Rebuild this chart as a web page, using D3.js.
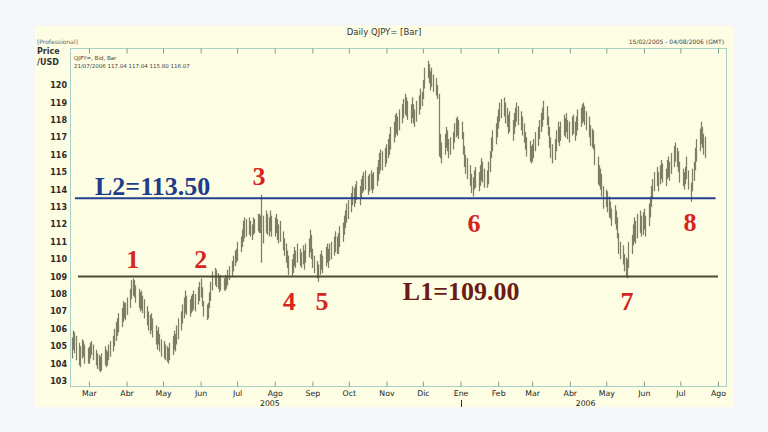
<!DOCTYPE html>
<html><head><meta charset="utf-8">
<script src="https://cdn.jsdelivr.net/npm/d3@7"></script>
<style>
html,body{margin:0;padding:0;background:#f5f6f8;}
svg{display:block;}
</style></head><body>
<svg id="c" width="768" height="432"></svg>
<script>
// ---------------- DATA ----------------
const firstBar = "2005-02-15";
const lastBar = "2006-07-21";
const axisStart = "2005-02-13T10:00Z";
const axisEnd = "2006-08-08T10:00Z";
const monthNames = ["Ene","Feb","Mar","Abr","May","Jun","Jul","Ago","Sep","Oct","Nov","Dic"];
const priceTicks = [103,104,105,106,107,108,109,110,111,112,113,114,115,116,117,118,119,120];

// daily highs (weekdays, 15/02/2005 .. 21/07/2006)
const highs = [
 // Feb 2005
 105.5,105.9,105.8,105.6,105.2,105.0,105.4,105.3,105.1,104.9,
 // Mar
 105.0,105.2,105.3,105.1,104.8,104.6,104.5,104.4,104.6,105.0,104.8,104.7,105.1,105.3,105.6,106.0,106.4,106.6,106.9,107.2,107.6,107.5,107.5,
 // Apr
 107.8,108.3,108.8,108.9,108.8,108.5,108.3,108.1,108.2,107.9,107.7,107.3,107.0,106.8,106.9,106.6,106.2,105.9,106.1,105.7,105.4,
 // May
 105.3,105.1,105.0,104.9,105.2,105.6,105.9,105.7,106.2,106.6,107.0,107.4,107.8,108.2,107.9,107.7,107.9,108.0,108.2,108.0,108.4,108.7,
 // Jun
 108.9,108.4,107.6,107.4,107.5,108.1,108.7,109.3,109.5,109.4,109.2,109.0,109.1,108.9,109.1,109.0,109.4,109.6,109.9,110.2,110.5,110.6,
 // Jul
 111.0,111.3,111.7,112.2,112.4,112.3,112.4,112.2,112.0,112.4,112.3,112.6,112.6,112.5,113.7,112.5,112.8,112.6,112.4,112.8,112.5,
 // Aug
 112.4,112.6,112.3,112.0,112.2,111.6,111.2,110.9,110.5,110.2,110.0,110.3,110.7,110.5,110.9,110.6,110.4,110.8,110.5,110.9,111.2,111.7,111.4,
 // Sep
 110.6,110.2,109.9,109.7,110.3,110.5,110.2,110.7,110.9,110.6,110.9,111.0,111.3,111.6,111.3,111.5,111.9,112.1,112.5,112.8,113.2,113.4,
 // Oct
 113.8,114.2,114.1,114.3,114.5,114.2,114.6,114.8,115.0,115.1,114.8,114.9,115.1,114.9,115.0,115.3,115.7,116.1,116.3,116.2,116.4,
 // Nov
 116.6,116.9,117.2,117.6,117.9,118.3,118.4,118.2,118.6,118.9,119.2,119.5,119.3,119.1,118.9,119.3,118.9,118.6,119.1,119.4,119.8,119.6,
 // Dec
 120.3,121.0,121.4,121.2,120.8,121.0,120.6,120.4,120.0,119.5,117.2,116.7,117.2,117.6,117.4,116.9,117.0,117.3,117.8,118.1,118.2,118.0,
 // Jan 2006
 117.9,117.3,116.5,116.0,115.8,115.4,114.9,114.7,115.1,115.3,115.0,115.4,115.8,115.6,115.2,115.1,115.6,116.2,117.0,117.4,117.8,118.2,
 // Feb
 118.6,119.0,119.2,119.3,119.0,118.7,118.3,118.5,118.0,118.4,118.7,119.0,118.8,118.5,118.2,117.8,117.3,117.0,116.8,116.5,
 // Mar
 116.6,116.9,117.3,117.6,118.0,118.4,118.7,119.1,118.8,118.2,117.6,117.0,116.6,116.9,117.4,117.9,117.6,117.9,118.3,118.1,118.4,118.0,117.9,
 // Apr
 118.2,118.3,117.9,118.2,118.6,118.7,118.9,119.0,118.8,118.5,118.2,117.7,117.5,117.4,116.6,115.9,115.4,115.2,114.9,114.2,
 // May
 114.0,113.9,113.6,113.3,112.9,113.1,112.8,112.4,111.5,111.0,110.8,110.3,110.1,110.0,111.0,111.4,112.0,112.4,112.2,112.6,112.8,112.5,112.7,
 // Jun
 112.9,112.5,113.2,113.6,114.2,114.6,115.0,115.3,115.0,115.4,115.7,115.5,115.2,115.7,115.9,115.6,116.1,116.5,116.7,116.4,116.2,115.6,
 // Jul
 115.2,115.0,115.3,115.9,115.1,114.4,115.2,115.6,116.4,116.9,117.5,117.9,117.6,117.2,117.04
];
// daily lows
const lows = [
 // Feb 2005
 104.3,104.8,104.6,104.2,103.9,103.8,104.3,104.4,104.0,104.0,
 // Mar
 104.0,104.3,104.5,104.2,103.9,103.7,103.6,103.5,103.6,103.9,103.8,103.9,104.2,104.4,104.7,105.0,105.3,105.6,105.8,106.1,106.4,106.6,106.5,
 // Apr
 106.8,107.2,107.7,107.9,107.8,107.5,107.2,107.0,107.1,106.9,106.6,106.2,105.9,105.7,105.9,105.5,105.1,104.8,105.1,104.7,104.4,
 // May
 104.3,104.2,104.1,104.0,104.2,104.5,104.8,104.7,105.1,105.4,105.9,106.3,106.6,106.9,106.8,106.7,106.9,107.0,107.1,107.0,107.4,107.6,
 // Jun
 107.8,107.3,106.7,106.5,106.6,107.2,107.6,108.2,108.5,108.4,108.3,108.1,108.2,108.2,108.2,108.3,108.5,108.8,109.0,109.3,109.6,109.8,
 // Jul
 109.9,110.4,110.7,111.0,111.2,111.3,111.4,111.3,111.1,111.4,111.5,111.6,111.5,111.5,109.8,110.9,111.5,111.4,111.3,111.6,111.3,
 // Aug
 111.3,111.5,111.1,110.9,111.0,110.5,110.2,109.8,109.5,109.1,109.0,109.2,109.6,109.5,109.8,109.6,109.5,109.7,109.4,109.8,110.1,110.4,110.0,
 // Sep
 109.5,109.2,108.9,108.7,109.1,109.4,109.2,109.6,109.8,109.5,109.9,110.0,110.2,110.4,110.3,110.3,110.7,111.0,111.4,111.8,112.1,112.3,
 // Oct
 112.7,113.1,113.0,113.2,113.4,113.1,113.5,113.8,113.9,114.0,113.7,113.9,114.0,113.8,114.0,114.2,114.5,114.9,115.1,115.1,115.3,
 // Nov
 115.5,115.8,116.0,116.3,116.7,117.0,117.2,117.1,117.4,117.8,118.1,118.3,118.2,118.0,117.8,118.1,117.8,117.6,117.9,118.3,118.6,118.8,
 // Dec
 119.2,119.8,120.4,120.1,119.7,119.9,119.6,119.4,119.2,115.9,115.8,115.5,116.0,116.4,116.2,115.8,116.0,116.3,116.7,117.0,117.1,116.9,
 // Jan 2006
 116.9,116.0,115.3,114.9,114.6,114.2,113.8,113.6,114.0,114.1,113.9,114.2,114.5,114.4,114.1,114.1,114.3,115.0,115.8,116.2,116.6,117.0,
 // Feb
 117.5,117.9,118.1,118.2,117.8,117.6,117.2,117.3,116.8,117.2,117.6,117.9,117.7,117.4,117.1,116.7,116.3,115.9,115.6,115.5,
 // Mar
 115.6,115.8,116.2,116.5,116.9,117.3,117.6,118.0,117.7,117.1,116.4,115.8,115.5,115.7,116.2,116.7,116.5,116.8,117.1,117.0,117.3,116.9,116.7,
 // Apr
 117.1,117.2,116.8,117.1,117.4,117.6,117.8,117.9,117.7,117.4,117.0,116.5,116.4,116.3,115.4,114.3,114.2,114.0,113.6,112.9,
 // May
 113.0,112.7,112.4,112.3,111.9,112.0,111.7,111.2,110.3,110.0,109.7,109.3,109.0,108.9,109.5,110.3,110.8,111.0,110.9,111.2,111.5,111.3,111.4,
 // Jun
 111.7,111.3,111.9,112.4,113.0,113.5,113.9,114.2,113.9,114.3,114.6,114.4,114.2,114.6,114.7,114.5,114.9,115.3,115.6,115.3,115.0,114.4,
 // Jul
 114.2,114.0,114.3,114.6,114.0,113.3,113.9,114.5,115.1,115.6,116.2,116.6,116.4,116.0,115.80
];
const lastOpen = 117.04, lastClose = 116.07;

// support / resistance levels
const levelValues = [113.5, 109.0];
const levelNames = ["L2=113.50", "L1=109.00"];
const levelFrom = ["2005-02-17T12:00Z", "2005-02-20T00:00Z"];
const levelTo = ["2006-07-30T00:00Z", "2006-08-01T00:00Z"];
const levelLabelDate = ["2005-03-06T00:00Z", "2005-11-14T12:00Z"];
const levelLabelPrice = [113.68, 107.66];

// numbered turning points (label anchor)
const pointNames = ["1","2","3","4","5","6","7","8"];
const pointDates = ["2005-04-06","2005-06-01","2005-07-19","2005-08-13","2005-09-09","2006-01-12","2006-05-18","2006-07-09"];
const pointPrices = [109.49,109.49,114.26,107.08,107.08,111.56,107.08,111.62];

const yearNames = ["2005","2006"];
const yearDates = ["2005-07-28","2006-04-14"];

// ---------------- CHART ----------------
const W = 768, H = 432;
const P = {l:70, t:48, r:727, b:387};
const svg = d3.select("#c");
const parse = s => new Date(s.length === 10 ? s + "T00:00Z" : s);

svg.append("rect").attr("width", W).attr("height", H).attr("fill", "#f5f6f8");
svg.append("rect").attr("x", 35).attr("y", 26).attr("width", 698).attr("height", 381).attr("fill", "#fdfde3");

const dates = d3.utcDay.range(parse(firstBar), d3.utcDay.offset(parse(lastBar), 1))
  .filter(d => d.getUTCDay() !== 0 && d.getUTCDay() !== 6);
const n = Math.min(dates.length, highs.length, lows.length);
const bars = d3.range(n).map(i => ({date: dates[i], hi: highs[i], lo: lows[i]}));

const x = d3.scaleUtc().domain([parse(axisStart), parse(axisEnd)]).range([P.l, P.r]);
const y = d3.scaleLinear().domain([102.66, 122.13]).range([P.b, P.t]);

// plot frame
svg.append("rect").attr("x", P.l + 0.5).attr("y", P.t + 0.5)
  .attr("width", P.r - P.l - 1).attr("height", P.b - P.t - 1)
  .attr("fill", "#fdfde3").attr("stroke", "#a9cfc6").attr("stroke-width", 1);

const months = d3.utcMonth.range(d3.utcMonth.ceil(x.domain()[0]), x.domain()[1]);

// bottom axis
const xAxis = d3.axisBottom(x).tickValues(months)
  .tickFormat(d => monthNames[d.getUTCMonth()])
  .tickSizeInner(-5).tickSizeOuter(0).tickPadding(4);
const gx = svg.append("g").attr("transform", `translate(0,${P.b - 0.5})`).call(xAxis);
gx.select(".domain").remove();
gx.selectAll(".tick line").attr("stroke", "#7f9f96");
gx.selectAll(".tick text").attr("font-family", "DejaVu Sans").attr("font-size", 7.8).attr("fill", "#222");

// top ticks
const xTop = d3.axisTop(x).tickValues(months).tickFormat("").tickSizeInner(-5).tickSizeOuter(0);
const gt = svg.append("g").attr("transform", `translate(0,${P.t + 0.5})`).call(xTop);
gt.select(".domain").remove();
gt.selectAll(".tick line").attr("stroke", "#7f9f96");

// left axis
const yAxis = d3.axisLeft(y).tickValues(priceTicks).tickFormat(d3.format("d")).tickSize(0).tickPadding(3);
const gy = svg.append("g").attr("transform", `translate(${P.l},0)`).call(yAxis);
gy.select(".domain").remove();
gy.selectAll(".tick text").attr("font-family", "DejaVu Sans").attr("font-weight", "bold")
  .attr("font-size", 8).attr("fill", "#2a2a2a");

// year labels
svg.append("g").selectAll("text").data(yearNames).join("text")
  .attr("x", (d, i) => x(parse(yearDates[i]))).attr("y", 406)
  .attr("text-anchor", "middle").attr("font-family", "DejaVu Sans").attr("font-size", 7.8)
  .attr("fill", "#222").text(d => d);
const yb = Math.round(x(parse("2006-01-01"))) + 0.5;
svg.append("line").attr("x1", yb).attr("x2", yb).attr("y1", 400).attr("y2", 407)
  .attr("stroke", "#333").attr("stroke-width", 1);

// bars
svg.append("clipPath").attr("id", "pc").append("rect")
  .attr("x", P.l + 1).attr("y", P.t + 1).attr("width", P.r - P.l - 2).attr("height", P.b - P.t - 2);
svg.append("g").attr("clip-path", "url(#pc)").selectAll("line").data(bars).join("line")
  .attr("x1", d => Math.round(x(d.date)) + 0.5).attr("x2", d => Math.round(x(d.date)) + 0.5)
  .attr("y1", d => y(d.hi)).attr("y2", d => y(d.lo))
  .attr("stroke", "#7e7e64").attr("stroke-width", 1.25);

// level lines
const levelColors = ["#22408e", "#4d4c33"];
const levelTextColors = ["#1f3c8a", "#6b1b14"];
svg.append("g").selectAll("line").data(levelValues).join("line")
  .attr("x1", (d, i) => x(parse(levelFrom[i]))).attr("x2", (d, i) => x(parse(levelTo[i])))
  .attr("y1", d => y(d)).attr("y2", d => y(d))
  .attr("stroke", (d, i) => levelColors[i]).attr("stroke-width", 2);
svg.append("g").selectAll("text").data(levelNames).join("text")
  .attr("x", (d, i) => x(parse(levelLabelDate[i]))).attr("y", (d, i) => y(levelLabelPrice[i]))
  .attr("font-family", "Liberation Serif").attr("font-weight", "bold").attr("font-size", 26)
  .attr("fill", (d, i) => levelTextColors[i]).text(d => d);

// numbered points
svg.append("g").selectAll("text").data(pointNames).join("text")
  .attr("x", (d, i) => x(parse(pointDates[i]))).attr("y", (d, i) => y(pointPrices[i]))
  .attr("text-anchor", "middle")
  .attr("font-family", "Liberation Serif").attr("font-weight", "bold").attr("font-size", 26)
  .attr("fill", "#d4261f").text(d => d);

// header texts
const hdr = svg.append("g").attr("font-family", "DejaVu Sans");
hdr.append("text").attr("x", 384).attr("y", 35).attr("text-anchor", "middle")
  .attr("font-size", 8.5).attr("fill", "#333").text("Daily QJPY= [Bar]");
hdr.append("text").attr("x", 37).attr("y", 44).attr("font-size", 6).attr("fill", "#666").text("[Professional]");
const fmt = d3.utcFormat("%d/%m/%Y");
hdr.append("text").attr("x", 724).attr("y", 44).attr("text-anchor", "end")
  .attr("font-size", 6).attr("fill", "#444")
  .text(`${fmt(parse("2005-02-15"))} - ${fmt(parse("2006-08-04"))} (GMT)`);
hdr.append("text").attr("x", 37).attr("y", 54).attr("font-size", 8).attr("font-weight", "bold").attr("fill", "#333").text("Price");
hdr.append("text").attr("x", 37).attr("y", 65).attr("font-size", 8).attr("font-weight", "bold").attr("fill", "#333").text("/USD");
const lb = bars[bars.length - 1];
hdr.append("text").attr("x", 74).attr("y", 60).attr("font-size", 5.5).attr("fill", "#444").text("QJPY=, Bid, Bar");
hdr.append("text").attr("x", 74).attr("y", 68).attr("font-size", 5.5).attr("fill", "#444")
  .text(`${fmt(lb.date)} ${lastOpen.toFixed(2)} ${lb.hi.toFixed(2)} ${lb.lo.toFixed(2)} ${lastClose.toFixed(2)}`);
</script>
</body></html>
